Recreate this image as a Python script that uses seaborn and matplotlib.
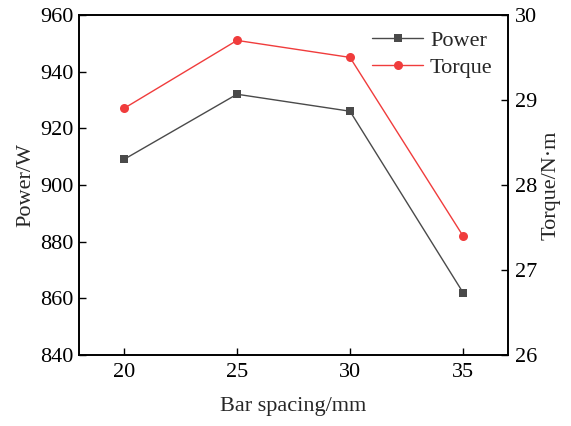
import matplotlib
matplotlib.use('Agg')
import matplotlib.pyplot as plt
import seaborn as sns
import pandas as pd

spacing = [20, 25, 30, 35]
power = [909, 932, 926, 862]
torque = [28.9, 29.7, 29.5, 27.4]

sns.set_style('ticks')
plt.rcParams['font.family'] = ['Liberation Serif', 'DejaVu Serif']
plt.rcParams['font.size'] = 16
plt.rcParams['xtick.direction'] = 'in'
plt.rcParams['ytick.direction'] = 'in'

df = pd.DataFrame({'spacing': spacing, 'power': power, 'torque': torque})

fig = plt.figure(figsize=(5.71, 4.26), dpi=100)
ax = fig.add_axes([0.138, 0.167, 0.752, 0.798])
ax2 = ax.twinx()

sns.lineplot(data=df, x='spacing', y='power', ax=ax, color='#4a4a4a', marker='s',
             markersize=6, markeredgewidth=0, linewidth=1, label='Power', legend=False)
sns.lineplot(data=df, x='spacing', y='torque', ax=ax2, color='#f03c3c', marker='o',
             markersize=6.5, markeredgewidth=0, linewidth=1, label='Torque', legend=False)

ax.set_xlim(18, 37)
ax.set_ylim(840, 960)
ax2.set_ylim(26, 30)
ax.set_xticks(spacing)
ax.set_yticks([840, 860, 880, 900, 920, 940, 960])
ax2.set_yticks([26, 27, 28, 29, 30])
ax.set_xlabel('Bar spacing/mm', fontsize=16, labelpad=11)
ax.set_ylabel('Power/W', fontsize=16, labelpad=4)
ax2.set_ylabel('Torque/N·m', fontsize=16, labelpad=3)

for a in (ax, ax2):
    for s in a.spines.values():
        s.set_linewidth(1.2)
        s.set_color('black')
    a.tick_params(length=5, width=1, labelsize=16, colors='black')
ax.tick_params(axis='x', pad=6)
ax2.tick_params(axis='y', pad=5)

h1, l1 = ax.get_legend_handles_labels()
h2, l2 = ax2.get_legend_handles_labels()
ax2.legend(h1 + h2, l1 + l2, loc='upper right', frameon=False, fontsize=16,
           handlelength=2.3, handletextpad=0.3, borderaxespad=0.3, labelspacing=0.3)

fig.savefig('out.png', dpi=100)
